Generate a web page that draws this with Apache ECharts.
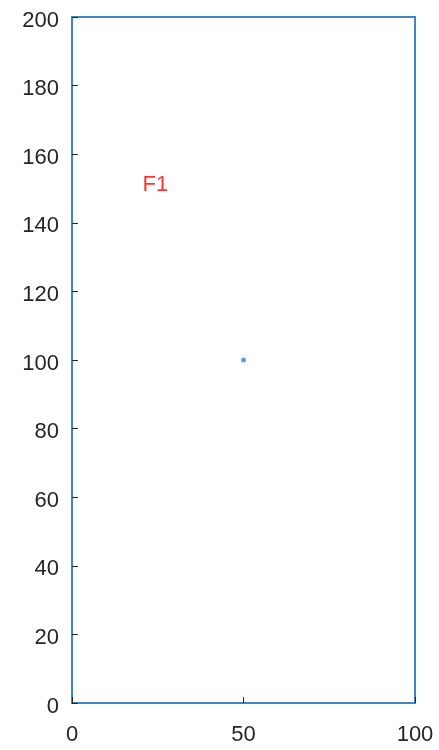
<!DOCTYPE html>
<html>
<head>
<meta charset="utf-8">
<script src="https://cdn.jsdelivr.net/npm/echarts@6/dist/echarts.min.js"></script>
<style>
html,body{margin:0;padding:0;background:#fff;}
#chart{width:439px;height:750px;}
</style>
</head>
<body>
<div id="chart"></div>
<script>
// Data
var xTicks = [0, 50, 100];
var yTicks = [0, 20, 40, 60, 80, 100, 120, 140, 160, 180, 200];
var pointData = [[50, 100]];
var textLabels = ['F1'];
var textPositions = [[20, 151]];

var axisBlue = '#3D86C8';
var textColor = '#262626';
var fontFam = 'Liberation Sans, Arial, sans-serif';

var chart = echarts.init(document.getElementById('chart'), null, {renderer: 'canvas'});
chart.setOption({
  animation: false,
  backgroundColor: '#ffffff',
  grid: {
    left: 72, right: 24, top: 17, bottom: 47,
    show: true, borderColor: axisBlue, borderWidth: 2, backgroundColor: 'transparent'
  },
  xAxis: {
    type: 'value', min: xTicks[0], max: xTicks[xTicks.length - 1], interval: 50,
    axisLine: {show: true, onZero: false, lineStyle: {color: axisBlue, width: 2}},
    axisTick: {show: true, inside: true, length: 6, lineStyle: {color: textColor, width: 1}},
    splitLine: {show: false},
    axisLabel: {color: textColor, fontSize: 22, fontFamily: fontFam, margin: 21}
  },
  yAxis: {
    type: 'value', min: yTicks[0], max: yTicks[yTicks.length - 1], interval: 20,
    axisLine: {show: true, onZero: false, lineStyle: {color: axisBlue, width: 2}},
    axisTick: {show: true, inside: true, length: 6, lineStyle: {color: textColor, width: 1}},
    splitLine: {show: false},
    axisLabel: {
      margin: 13,
      formatter: function (v) { return '{t|' + v + '}'; },
      rich: {t: {color: textColor, fontSize: 22, fontFamily: fontFam, padding: [7, 0, 0, 0]}}
    }
  },
  series: [
    {
      type: 'scatter',
      data: pointData,
      symbol: 'circle',
      symbolSize: 5,
      itemStyle: {color: '#3A88CE'},
      z: 3
    },
    {
      type: 'scatter',
      data: textPositions.map(function (p, i) { return {value: p, name: textLabels[i]}; }),
      symbolSize: 0,
      label: {
        show: true,
        position: 'right',
        distance: 2,
        formatter: function (p) { return p.name; },
        color: '#FF0000',
        fontSize: 22,
        fontFamily: fontFam
      },
      z: 4
    }
  ]
});
</script>
</body>
</html>
